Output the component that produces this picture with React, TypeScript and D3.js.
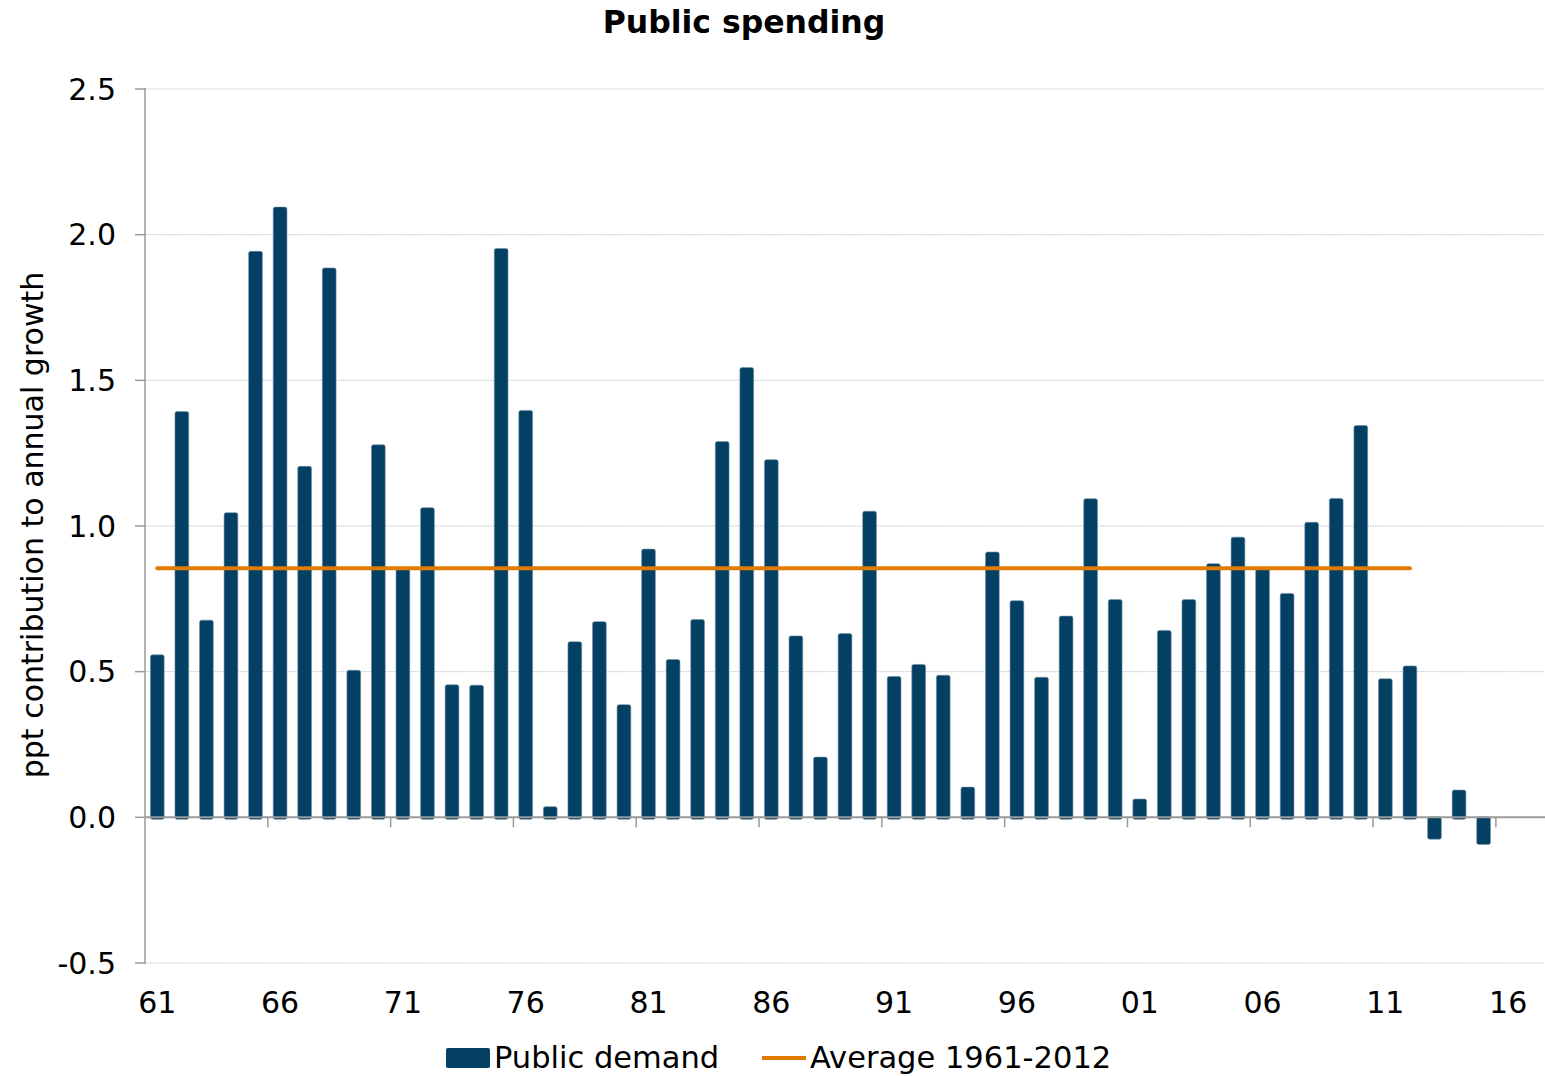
import React from "react";
import * as d3 from "d3";

const years: number[] = [
  1961, 1962, 1963, 1964, 1965, 1966, 1967, 1968, 1969, 1970,
  1971, 1972, 1973, 1974, 1975, 1976, 1977, 1978, 1979, 1980,
  1981, 1982, 1983, 1984, 1985, 1986, 1987, 1988, 1989, 1990,
  1991, 1992, 1993, 1994, 1995, 1996, 1997, 1998, 1999, 2000,
  2001, 2002, 2003, 2004, 2005, 2006, 2007, 2008, 2009, 2010,
  2011, 2012, 2013, 2014, 2015, 2016, 2017,
];

const publicDemand: (number | null)[] = [
  0.556, 1.391, 0.675, 1.044, 1.941, 2.093, 1.203, 1.884, 0.503, 1.277,
  0.85, 1.061, 0.453, 0.452, 1.951, 1.395, 0.035, 0.601, 0.67, 0.385,
  0.919, 0.54, 0.677, 1.288, 1.542, 1.226, 0.621, 0.205, 0.629, 1.049,
  0.482, 0.523, 0.486, 0.102, 0.909, 0.742, 0.479, 0.689, 1.092, 0.746,
  0.061, 0.64, 0.746, 0.869, 0.96, 0.855, 0.767, 1.011, 1.093, 1.343,
  0.474, 0.518, -0.068, 0.092, -0.086, null, null,
];

const averageValue = 0.855;
const averageStart = 1961;
const averageEnd = 2012;

const yTicks: number[] = [-0.5, 0.0, 0.5, 1.0, 1.5, 2.0, 2.5];
const xTickYears: number[] = [1961, 1966, 1971, 1976, 1981, 1986, 1991, 1996, 2001, 2006, 2011, 2016];

const title = "Public spending";
const yLabel = "ppt contribution to annual growth";
const barLegend = "Public demand";
const lineLegend = "Average 1961-2012";

const BAR = "#034064";
const ORANGE = "#E07B00";
const FONT = "'DejaVu Sans', Verdana, sans-serif";

export default function App() {
  const W = 1545;
  const H = 1076;
  const left = 145;
  const right = 1545;
  const top = 89;
  const bottom = 963;

  const x = d3
    .scaleBand<number>()
    .domain(years)
    .range([left, right])
    .paddingInner(0.44)
    .paddingOuter(0.22);
  const y = d3.scaleLinear().domain([-0.5, 2.5]).range([bottom, top]);
  const fmt = (t: number) => t.toFixed(1);
  const gap = (x.step() - x.bandwidth()) / 2;
  const center = (yr: number) => (x(yr) as number) + x.bandwidth() / 2;
  const y0 = y(0);

  const boundaryTicks = years
    .map((yr, i) => ({ yr, i }))
    .filter((d) => d.i > 0 && d.i % 5 === 0 && d.i <= 55)
    .map((d) => (x(d.yr) as number) - gap);

  return (
    <svg
      width={W}
      height={H}
      style={{ position: "absolute", left: 0, top: 0, background: "#fff" }}
      fontFamily={FONT}
    >
      <text x={744} y={33} textAnchor="middle" fontSize={31.5} fontWeight="bold" fill="#000">
        {title}
      </text>

      {/* gridlines */}
      {yTicks
        .filter((t) => t !== 0)
        .map((t) => (
          <line
            key={"g" + t}
            x1={left}
            x2={right}
            y1={y(t)}
            y2={y(t)}
            stroke="#b9c6cf"
            strokeWidth={1}
            strokeDasharray="1.5,1"
          />
        ))}

      {/* bars */}
      {years.map((yr, i) => {
        const v = publicDemand[i];
        if (v === null || v === undefined) return null;
        const y1 = y(Math.max(0, v));
        const y2 = y(Math.min(0, v));
        return (
          <rect
            key={"b" + yr}
            x={x(yr) as number}
            y={y1 - 0.5}
            width={x.bandwidth()}
            height={y2 - y1 + 2.5}
            rx={2}
            fill={BAR}
            stroke="#6f8ea3"
            strokeWidth={0.6}
          />
        );
      })}

      {/* zero line */}
      <line x1={left} x2={right} y1={y0} y2={y0} stroke="#9a9a9a" strokeWidth={2} />

      {/* average line */}
      <line
        x1={center(averageStart)}
        x2={center(averageEnd)}
        y1={y(averageValue)}
        y2={y(averageValue)}
        stroke={ORANGE}
        strokeWidth={4}
        strokeLinecap="round"
      />

      {/* y axis */}
      <line x1={left} x2={left} y1={top - 1} y2={bottom + 1} stroke="#9a9a9a" strokeWidth={1.5} />
      {yTicks.map((t) => (
        <g key={"yt" + t}>
          <line x1={left - 10} x2={left} y1={y(t)} y2={y(t)} stroke="#9a9a9a" strokeWidth={1.5} />
          <text x={116} y={y(t)} dy="0.36em" textAnchor="end" fontSize={30} fill="#000">
            {fmt(t)}
          </text>
        </g>
      ))}

      {/* x ticks */}
      {boundaryTicks.map((bx, i) => (
        <line key={"xt" + i} x1={bx} x2={bx} y1={y0} y2={y0 + 10} stroke="#9a9a9a" strokeWidth={1.5} />
      ))}
      {xTickYears.map((yr) => (
        <text key={"xl" + yr} x={center(yr)} y={1013} textAnchor="middle" fontSize={30} fill="#000">
          {String(yr).slice(2)}
        </text>
      ))}

      {/* y label */}
      <text
        transform={`translate(43, 525) rotate(-90)`}
        textAnchor="middle"
        fontSize={30}
        fill="#000"
      >
        {yLabel}
      </text>

      {/* legend */}
      <rect x={446} y={1048} width={44} height={20} rx={2} fill={BAR} />
      <text x={494} y={1068} fontSize={30.5} fill="#000">
        {barLegend}
      </text>
      <line x1={762} x2={806} y1={1058} y2={1058} stroke={ORANGE} strokeWidth={4} />
      <text x={810} y={1068} fontSize={30.5} fill="#000">
        {lineLegend}
      </text>
    </svg>
  );
}
